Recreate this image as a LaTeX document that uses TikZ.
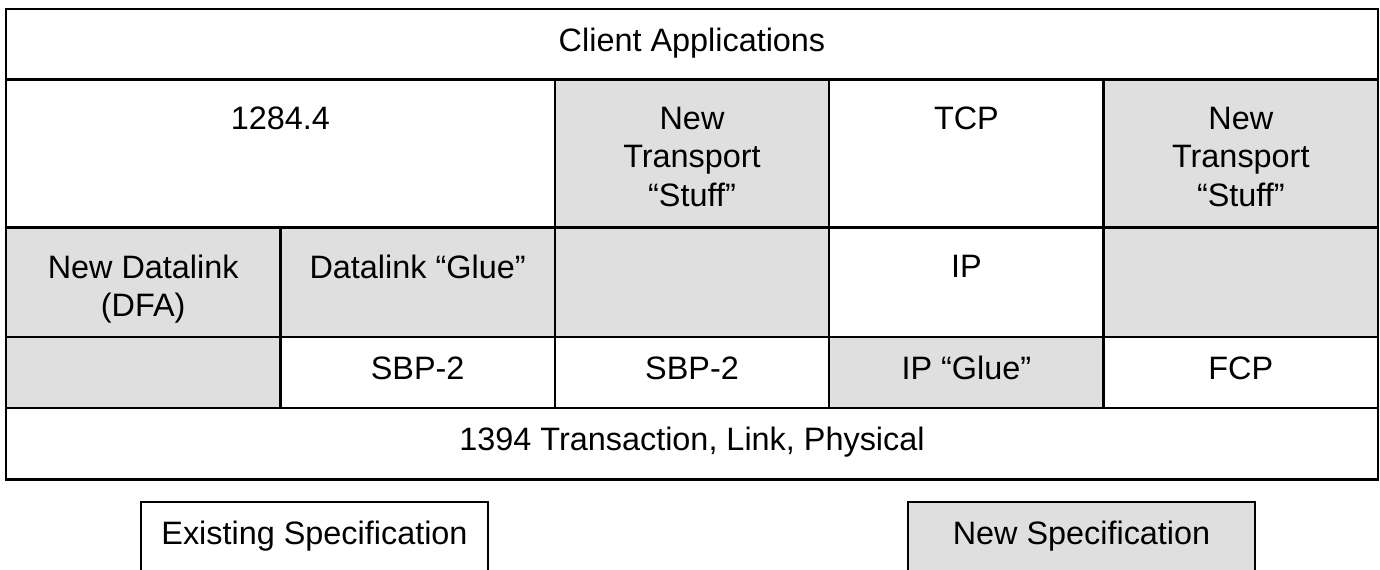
\documentclass[tikz,border=0pt]{standalone}
\usepackage{fontspec}
\setmainfont{Liberation Sans}
\usetikzlibrary{positioning}
\definecolor{newspec}{RGB}{223,223,223}

\begin{document}
\begin{tikzpicture}[
                x = 0.5pt, y = -0.5pt,
                font = \fontsize{16.2}{19.25}\selectfont,
                cell/.style={ rectangle, draw = black, line width = 1.2pt, inner sep = 0pt, outer sep = 0pt,
                              minimum width = 137.2pt, anchor = north west, align = center,
                              text height = 0.716em, text depth = 0pt },
                old/.style={ cell, fill = white },
                new/.style={ cell, fill = newspec },
                txt/.style={ inner sep = 0pt, align = center }
            ]
            \useasboundingbox (0, 0) rectangle (1380, 569);
            \clip (0, 0) rectangle (1380, 569);

            % layer 1
            \node (apps) [old, minimum width = 686pt, minimum height = 35.4pt] at (6, 8.7) {Client Applications};

            % layer 2
            \node (ieee) [old, minimum width = 274.4pt, minimum height = 73.9pt] at (6, 79.5) {};
            \node (ntsa) [new, minimum height = 73.9pt] at (554.8, 79.5) {};
            \node (tcp)  [old, minimum height = 73.9pt] at (829.2, 79.5) {};
            \node (ntsb) [new, minimum height = 73.9pt] at (1103.6, 79.5) {};

            \node (ieeetxt) [txt, below = 13.5pt of ieee.north] {1284.4};
            \node (ntsatxt) [txt, below = 13.5pt of ntsa.north] {New\\Transport\\“Stuff”};
            \node (tcptxt)  [txt, below = 13.5pt of tcp.north]  {TCP};
            \node (ntsbtxt) [txt, below = 13.5pt of ntsb.north] {New\\Transport\\“Stuff”};

            % layer 3
            \node (dfa)  [new, minimum height = 54.85pt] at (6, 227.3) {};
            \node (glue) [new, minimum height = 54.85pt] at (280.4, 227.3) {};
            \node (gapc) [new, minimum height = 54.85pt] at (554.8, 227.3) {};
            \node (ip)   [old, minimum height = 54.85pt] at (829.2, 227.3) {};
            \node (gape) [new, minimum height = 54.85pt] at (1103.6, 227.3) {};

            \node (dfatxt)  [txt, below = 13.5pt of dfa.north]  {New Datalink\\(DFA)};
            \node (gluetxt) [txt, below = 13.5pt of glue.north] {Datalink “Glue”};
            \node (iptxt)   [txt, below = 13.5pt of ip.north]   {IP};

            % layer 4
            \node (gapa)   [new, minimum height = 35.5pt] at (6, 337) {};
            \node (sbpa)   [old, minimum height = 35.5pt] at (280.4, 337) {SBP-2};
            \node (sbpb)   [old, minimum height = 35.5pt] at (554.8, 337) {SBP-2};
            \node (ipglue) [new, minimum height = 35.5pt] at (829.2, 337) {IP “Glue”};
            \node (fcp)    [old, minimum height = 35.5pt] at (1103.6, 337) {FCP};

            % layer 5
            \node (phys) [old, minimum width = 686pt, minimum height = 35.75pt] at (6, 408) {1394 Transaction, Link, Physical};

            % legend
            \node (exist)  [old, minimum width = 173.5pt, minimum height = 35.5pt] at (141, 502) {Existing Specification};
            \node (newkey) [new, minimum width = 173.5pt, minimum height = 35.5pt] at (908, 502) {New Specification};
        \end{tikzpicture}
\end{document}
